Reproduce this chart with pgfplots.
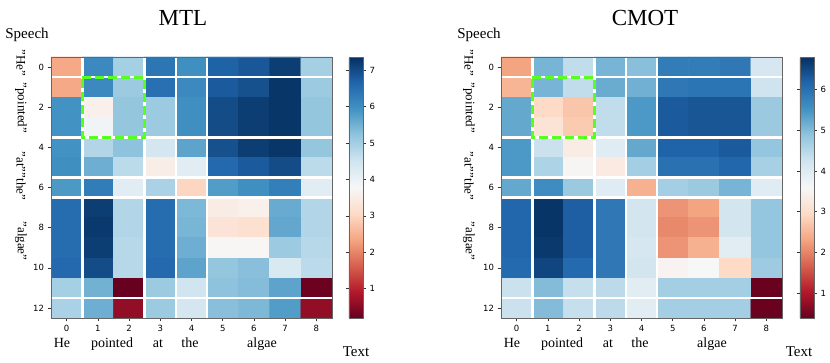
\documentclass[border=0pt]{standalone}
\usepackage{pgfplots}
\pgfplotsset{compat=1.18}
\usepackage{fontspec}
\setmainfont{Liberation Serif}
\newfontfamily\dejavu{DejaVu Sans}
\definecolor{lime}{RGB}{88,255,30}
\pgfplotsset{
  colormap={RdBu}{rgb255=(103,0,31) rgb255=(178,24,43) rgb255=(214,96,77) rgb255=(244,165,130) rgb255=(253,219,199) rgb255=(247,247,247) rgb255=(209,229,240) rgb255=(146,197,222) rgb255=(67,147,195) rgb255=(33,102,172) rgb255=(5,48,97)},
  hm/.style={
    scale only axis, width=281pt, height=261pt,
    anchor=south west,
    xmin=-0.5, xmax=8.5, ymin=-0.5, ymax=12.5,
    enlargelimits=false,
    xtick={0,...,8},
    ytick={0,2,4,6,8,10,12}, yticklabels={12,10,8,6,4,2,0},
    tick align=outside, xtick pos=bottom, ytick pos=left,
    major tick length=3.5pt,
    tick style={black!80, line width=0.6pt},
    axis line style={black!60, line width=0.7pt},
    tick label style={font=\dejavu\fontsize{8.5}{10}\selectfont},
    /pgf/number format/assume math mode=true,
    colormap name=RdBu,
    colorbar,
    colorbar shift/.style={},
    axis on top,
  },
  cb/.style={
    colorbar style={
      at={(parent axis.north east)}, anchor=north west, xshift=#1,
      scale only axis, width=14pt, height=261pt,
      tick align=outside, major tick length=3pt,
      tick style={black!80, line width=0.6pt},
      axis line style={black!60, line width=0.7pt},
      tick label style={font=\dejavu\fontsize{8.5}{10}\selectfont},
      /pgf/number format/assume math mode=true,
    },
  },
  sep/.style={white, line width=2.6pt},
  box/.style={draw=lime, line width=3pt, dash pattern=on 9pt off 4pt, line join=miter},
}
\begin{document}
\begin{tikzpicture}
\path[use as bounding box] (0,0) rectangle (830pt,363pt);
% ---------------- MTL ----------------
\begin{axis}[hm, at={(51pt,45pt)}, cb=17pt,
  point meta min=0.19, point meta max=7.37,
  colorbar style={ytick={1,2,3,4,5,6,7}, yticklabels={1,2,3,4,5,6,7}}]
\addplot[matrix plot*, mesh/cols=9, point meta=explicit]
 table[row sep=\\, x=x, y expr=12-\thisrow{y}, meta=c]{
x y c\\
0 0 2.4\\ 1 0 6.1\\ 2 0 5.0\\ 3 0 6.4\\ 4 0 6.0\\ 5 0 6.7\\ 6 0 6.85\\ 7 0 7.2\\ 8 0 5.0\\
0 1 2.4\\ 1 1 6.1\\ 2 1 5.1\\ 3 1 6.5\\ 4 1 6.1\\ 5 1 6.8\\ 6 1 6.95\\ 7 1 7.3\\ 8 1 5.1\\
0 2 5.95\\ 1 2 3.6\\ 2 2 5.2\\ 3 2 5.1\\ 4 2 6.0\\ 5 2 7.0\\ 6 2 7.2\\ 7 2 7.3\\ 8 2 5.2\\
0 3 5.95\\ 1 3 3.9\\ 2 3 5.2\\ 3 3 5.1\\ 4 3 6.0\\ 5 3 7.0\\ 6 3 7.2\\ 7 3 7.3\\ 8 3 5.2\\
0 4 5.95\\ 1 4 4.85\\ 2 4 5.25\\ 3 4 4.45\\ 4 4 5.7\\ 5 4 6.95\\ 6 4 7.2\\ 7 4 7.3\\ 8 4 5.2\\
0 5 6.0\\ 1 5 5.55\\ 2 5 4.75\\ 3 5 3.55\\ 4 5 4.2\\ 5 5 6.6\\ 6 5 6.8\\ 7 5 7.0\\ 8 5 4.75\\
0 6 5.85\\ 1 6 6.3\\ 2 6 4.2\\ 3 6 4.95\\ 4 6 3.0\\ 5 6 5.8\\ 6 6 6.0\\ 7 6 6.25\\ 8 6 4.2\\
0 7 6.55\\ 1 7 7.2\\ 2 7 4.85\\ 3 7 6.55\\ 4 7 5.4\\ 5 7 3.5\\ 6 7 3.6\\ 7 7 5.6\\ 8 7 4.85\\
0 8 6.55\\ 1 8 7.25\\ 2 8 4.85\\ 3 8 6.55\\ 4 8 5.45\\ 5 8 3.3\\ 6 8 3.2\\ 7 8 5.65\\ 8 8 4.85\\
0 9 6.55\\ 1 9 7.2\\ 2 9 4.8\\ 3 9 6.55\\ 4 9 5.55\\ 5 9 3.75\\ 6 9 3.75\\ 7 9 5.1\\ 8 9 4.8\\
0 10 6.6\\ 1 10 7.0\\ 2 10 4.8\\ 3 10 6.6\\ 4 10 5.7\\ 5 10 5.2\\ 6 10 5.3\\ 7 10 4.35\\ 8 10 4.75\\
0 11 5.0\\ 1 11 5.5\\ 2 11 0.2\\ 3 11 5.1\\ 4 11 4.5\\ 5 11 5.25\\ 6 11 5.35\\ 7 11 5.7\\ 8 11 0.25\\
0 12 4.95\\ 1 12 5.55\\ 2 12 0.6\\ 3 12 5.1\\ 4 12 4.45\\ 5 12 5.3\\ 6 12 5.4\\ 7 12 5.8\\ 8 12 0.6\\
};
\addplot[sep] coordinates {(-0.5,11.5) (8.5,11.5)};
\addplot[sep] coordinates {(-0.5,8.5) (8.5,8.5)};
\addplot[sep] coordinates {(-0.5,6.5) (8.5,6.5)};
\addplot[sep] coordinates {(-0.5,5.5) (8.5,5.5)};
\addplot[sep] coordinates {(-0.5,0.5) (8.5,0.5)};
\addplot[sep] coordinates {(0.5,-0.5) (0.5,12.5)};
\addplot[sep] coordinates {(2.5,-0.5) (2.5,12.5)};
\addplot[sep] coordinates {(3.5,-0.5) (3.5,12.5)};
\addplot[sep] coordinates {(4.5,-0.5) (4.5,12.5)};
\addplot[box] coordinates {(0.5,11.5) (2.5,11.5) (2.5,8.5) (0.5,8.5) (0.5,11.5)};
\end{axis}
% ---------------- CMOT ----------------
\begin{axis}[hm, at={(501pt,45pt)}, cb=18pt,
  point meta min=0.385, point meta max=6.80,
  colorbar style={ytick={1,2,3,4,5,6}, yticklabels={1,2,3,4,5,6}}]
\addplot[matrix plot*, mesh/cols=9, point meta=explicit]
 table[row sep=\\, x=x, y expr=12-\thisrow{y}, meta=c]{
x y c\\
0 0 2.3\\ 1 0 5.1\\ 2 0 4.4\\ 3 0 5.1\\ 4 0 4.95\\ 5 0 5.85\\ 6 0 5.85\\ 7 0 5.9\\ 8 0 4.15\\
0 1 2.5\\ 1 1 5.1\\ 2 1 4.4\\ 3 1 5.2\\ 4 1 5.15\\ 5 1 5.9\\ 6 1 5.95\\ 7 1 5.95\\ 8 1 4.25\\
0 2 5.25\\ 1 2 2.95\\ 2 2 2.7\\ 3 2 4.4\\ 4 2 5.45\\ 5 2 6.3\\ 6 2 6.35\\ 7 2 6.35\\ 8 2 4.8\\
0 3 5.25\\ 1 3 3.15\\ 2 3 2.75\\ 3 3 4.4\\ 4 3 5.45\\ 5 3 6.3\\ 6 3 6.35\\ 7 3 6.35\\ 8 3 4.8\\
0 4 5.45\\ 1 4 4.3\\ 2 4 3.35\\ 3 4 4.0\\ 4 4 5.25\\ 5 4 6.2\\ 6 4 6.2\\ 7 4 6.3\\ 8 4 4.85\\
0 5 5.45\\ 1 5 4.6\\ 2 5 3.55\\ 3 5 3.3\\ 4 5 4.7\\ 5 5 6.0\\ 6 5 6.0\\ 7 5 6.15\\ 8 5 4.65\\
0 6 5.25\\ 1 6 5.6\\ 2 6 4.8\\ 3 6 4.0\\ 4 6 2.45\\ 5 6 4.7\\ 6 6 4.8\\ 7 6 5.1\\ 8 6 4.0\\
0 7 6.15\\ 1 7 6.75\\ 2 7 6.25\\ 3 7 5.9\\ 4 7 4.2\\ 5 7 2.15\\ 6 7 2.3\\ 7 7 4.2\\ 8 7 4.85\\
0 8 6.15\\ 1 8 6.75\\ 2 8 6.25\\ 3 8 5.9\\ 4 8 4.2\\ 5 8 2.05\\ 6 8 2.15\\ 7 8 4.2\\ 8 8 4.85\\
0 9 6.15\\ 1 9 6.7\\ 2 9 6.25\\ 3 9 5.9\\ 4 9 4.15\\ 5 9 2.15\\ 6 9 2.45\\ 7 9 3.95\\ 8 9 4.85\\
0 10 6.1\\ 1 10 6.55\\ 2 10 6.1\\ 3 10 5.9\\ 4 10 4.2\\ 5 10 3.5\\ 6 10 3.6\\ 7 10 2.95\\ 8 10 4.75\\
0 11 4.3\\ 1 11 5.0\\ 2 11 4.35\\ 3 11 4.45\\ 4 11 3.95\\ 5 11 4.7\\ 6 11 4.7\\ 7 11 4.7\\ 8 11 0.4\\
0 12 4.3\\ 1 12 5.0\\ 2 12 4.35\\ 3 12 4.45\\ 4 12 3.95\\ 5 12 4.7\\ 6 12 4.7\\ 7 12 4.7\\ 8 12 0.4\\
};
\addplot[sep] coordinates {(-0.5,11.5) (8.5,11.5)};
\addplot[sep] coordinates {(-0.5,8.5) (8.5,8.5)};
\addplot[sep] coordinates {(-0.5,6.5) (8.5,6.5)};
\addplot[sep] coordinates {(-0.5,5.5) (8.5,5.5)};
\addplot[sep] coordinates {(-0.5,0.5) (8.5,0.5)};
\addplot[sep] coordinates {(0.5,-0.5) (0.5,12.5)};
\addplot[sep] coordinates {(2.5,-0.5) (2.5,12.5)};
\addplot[sep] coordinates {(3.5,-0.5) (3.5,12.5)};
\addplot[sep] coordinates {(4.5,-0.5) (4.5,12.5)};
\addplot[box] coordinates {(0.5,11.5) (2.5,11.5) (2.5,8.5) (0.5,8.5) (0.5,11.5)};
\end{axis}
% ---------------- texts ----------------
\begin{scope}[every node/.style={inner sep=0pt}]
\node[anchor=base, font=\fontsize{23}{26}\selectfont] at (183pt,337pt) {MTL};
\node[anchor=base, font=\fontsize{23}{26}\selectfont] at (645pt,337pt) {CMOT};
\node[anchor=base, font=\fontsize{15}{17}\selectfont] at (27pt,324pt) {Speech};
\node[anchor=base, font=\fontsize{15}{17}\selectfont] at (479pt,324pt) {Speech};
\foreach \dx in {0pt,448pt}{
  \begin{scope}[xshift=\dx, every node/.append style={rotate=-90, font=\fontsize{13}{15}\selectfont}]
  \node at (21pt,300pt) {"He"};
  \node at (21pt,255pt) {"pointed"};
  \node at (21pt,187pt) {"at""the"};
  \node at (21pt,122pt) {"algae"};
  \end{scope}
}
\foreach \dx in {0pt,450pt}{
  \begin{scope}[xshift=\dx, every node/.append style={anchor=base, font=\fontsize{14}{16}\selectfont}]
  \node at (62pt,15pt) {He};
  \node at (112pt,15pt) {pointed};
  \node at (158pt,15pt) {at};
  \node at (190pt,15pt) {the};
  \node at (262pt,15pt) {algae};
  \end{scope}
}
\node[anchor=base, font=\fontsize{15}{17}\selectfont] at (356pt,6pt) {Text};
\node[anchor=base, font=\fontsize{15}{17}\selectfont] at (799pt,6pt) {Text};
\end{scope}
\end{tikzpicture}
\end{document}
